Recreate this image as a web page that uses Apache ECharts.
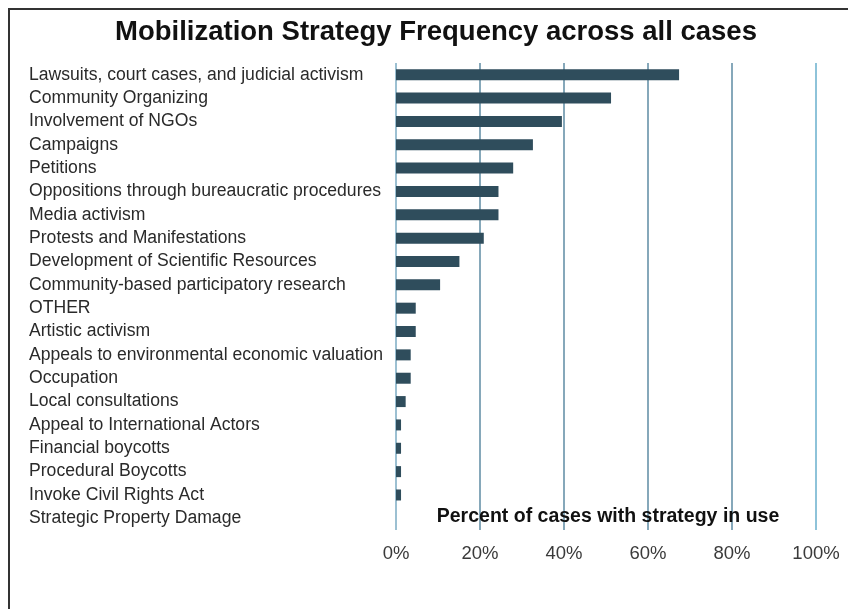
<!DOCTYPE html>
<html>
<head>
<meta charset="utf-8">
<title>chart</title>
<style>
  html, body { margin: 0; padding: 0; background: #fff; }
  #main { width: 848px; height: 609px; }
</style>
</head>
<body>
<div id="main"></div>
<script src="https://cdn.jsdelivr.net/npm/echarts@6/dist/echarts.min.js"></script>
<script>
// strategies, top to bottom as shown
var strategies = [
  'Lawsuits, court cases, and judicial activism',
  'Community Organizing',
  'Involvement of NGOs',
  'Campaigns',
  'Petitions',
  'Oppositions through bureaucratic procedures',
  'Media activism',
  'Protests and Manifestations',
  'Development of Scientific Resources',
  'Community-based participatory research',
  'OTHER',
  'Artistic activism',
  'Appeals to environmental economic valuation',
  'Occupation',
  'Local consultations',
  'Appeal to International Actors',
  'Financial boycotts',
  'Procedural Boycotts',
  'Invoke Civil Rights Act',
  'Strategic Property Damage'
];
// percent of cases
var percents = [67.4, 51.2, 39.5, 32.6, 27.9, 24.4, 24.4, 20.9, 15.1, 10.5,
                4.7, 4.7, 3.5, 3.5, 2.3, 1.2, 1.2, 1.2, 1.2, 0];
var xTicks = [0, 20, 40, 60, 80, 100];
var axisTitle = 'Percent of cases with strategy in use';

var myChart = echarts.init(document.getElementById('main'));

var option = {
  backgroundColor: '#fff',
  animation: false,
  title: {
    text: 'Mobilization Strategy Frequency across all cases',
    left: 431,
    top: 13,
    textAlign: 'center',
    textStyle: {
      fontFamily: 'Liberation Sans',
      fontSize: 27.5,
      fontWeight: 'bold',
      color: '#111'
    }
  },
  graphic: [{
    type: 'rect',
    shape: { x: 9, y: 9, width: 900, height: 700 },
    style: { fill: 'none', stroke: '#333', lineWidth: 2 },
    silent: true
  }, {
    type: 'text',
    x: 608,
    y: 517,
    z: 10,
    style: {
      text: axisTitle,
      fill: '#111',
      font: 'bold 19.5px "Liberation Sans"',
      align: 'center',
      verticalAlign: 'middle'
    },
    silent: true
  }],
  grid: {
    left: 396,
    right: 32,
    top: 63,
    bottom: 79
  },
  xAxis: {
    type: 'value',
    min: 0,
    max: 100,
    interval: 20,
    axisLine: { show: false },
    axisTick: { show: false },
    axisLabel: {
      margin: 14,
      fontFamily: 'Liberation Sans',
      fontSize: 18.5,
      color: '#3a3a3a',
      formatter: function (v) {
        return xTicks.indexOf(v) >= 0 ? v + '%' : '';
      }
    },
    splitLine: {
      show: true,
      lineStyle: {
        color: ['#9cc0d2', '#86a8ba', '#86a8ba', '#86a8ba', '#86a8ba', '#8ec3d9'],
        width: 2
      }
    }
  },
  yAxis: {
    type: 'category',
    inverse: true,
    data: strategies,
    axisLine: { show: false },
    axisTick: { show: false },
    axisLabel: {
      align: 'left',
      margin: 367,
      interval: 0,
      fontFamily: 'Liberation Sans',
      fontSize: 17.6,
      color: '#2a2a2a'
    }
  },
  series: [{
    type: 'bar',
    data: percents,
    barWidth: 11,
    itemStyle: { color: '#2f4d5c' }
  }]
};

myChart.setOption(option);
</script>
</body>
</html>
